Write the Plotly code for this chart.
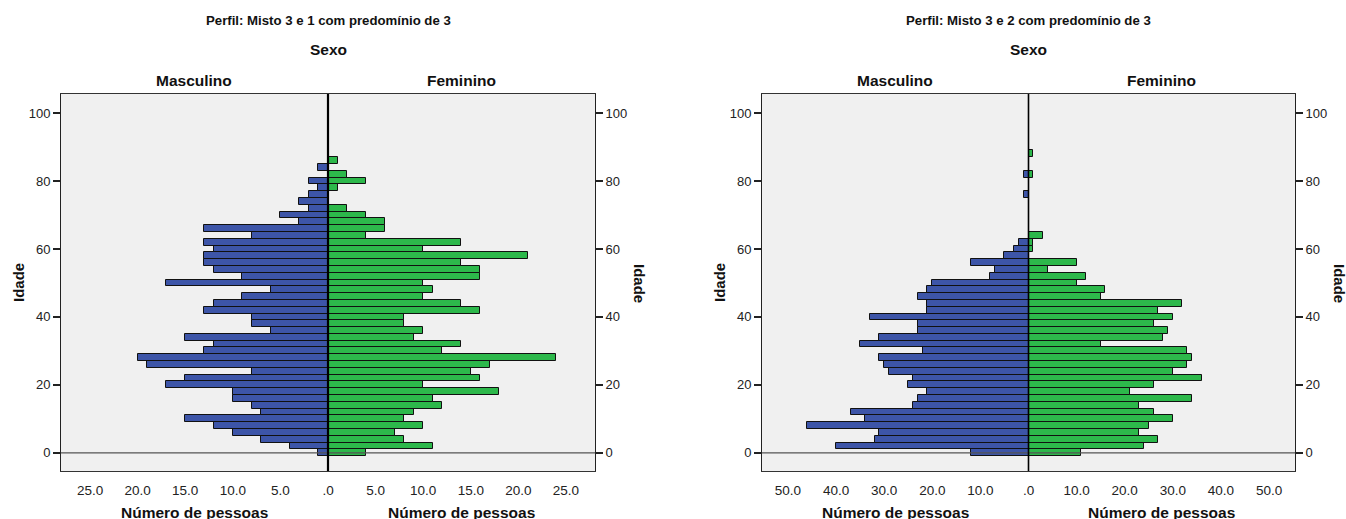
import plotly.graph_objects as go

# Age classes (centre of each 2-year bin)
ages_a = list(range(0, 88, 2))   # 0 .. 86
ages_b = list(range(0, 90, 2))   # 0 .. 88

# Perfil: Misto 3 e 1 com predomínio de 3
masc_a = [1, 4, 7, 10, 12, 15, 7, 8, 10, 10, 17, 15, 8, 19, 20, 13, 12, 15, 6, 8, 8, 13,
          12, 9, 6, 17, 9, 12, 13, 13, 12, 13, 8, 13, 3, 5, 2, 3, 2, 1, 2, 0, 1, 0]
fem_a = [4, 11, 8, 7, 10, 8, 9, 12, 11, 18, 10, 16, 15, 17, 24, 12, 14, 9, 10, 8, 8, 16,
         14, 10, 11, 10, 16, 16, 14, 21, 10, 14, 4, 6, 6, 4, 2, 0, 0, 1, 4, 2, 0, 1]

# Perfil: Misto 3 e 2 com predomínio de 3
masc_b = [12, 40, 32, 31, 46, 34, 37, 24, 23, 21, 25, 24, 29, 30, 31, 22, 35, 31, 23, 23,
          33, 21, 21, 23, 21, 20, 8, 7, 12, 5, 3, 2, 0, 0, 0, 0, 0, 0, 1, 0, 0, 1, 0, 0, 0]
fem_b = [11, 24, 27, 23, 25, 30, 26, 23, 34, 21, 26, 36, 30, 33, 34, 33, 15, 28, 29, 26,
         30, 27, 32, 15, 16, 10, 12, 4, 10, 0, 1, 1, 3, 0, 0, 0, 0, 0, 0, 0, 0, 1, 0, 0, 1]

titles = ["Perfil: Misto 3 e 1 com predomínio de 3", "Perfil: Misto 3 e 2 com predomínio de 3"]
x_ticks_a = [5, 10, 15, 20, 25]
x_ticks_b = [10, 20, 30, 40, 50]
y_ticks = [0, 20, 40, 60, 80, 100]

BLUE = "#3D55A8"
GREEN = "#2DB84B"
FONT = "Liberation Sans, Arial, sans-serif"
W, H = 1346, 519

panels = [
    dict(ages=ages_a, masc=masc_a, fem=fem_a, ticks=x_ticks_a, rng=28.05,
         px=(61, 595), xa="x", ya="y", center_w=2.2),
    dict(ages=ages_b, masc=masc_b, fem=fem_b, ticks=x_ticks_b, rng=55.4,
         px=(762, 1295), xa="x2", ya="y2", center_w=1.6),
]

y_top, y_bot = 94, 471
y_dom = [1 - y_bot / H, 1 - y_top / H]
y_rng = [-5.35, 105.6]

fig = go.Figure()
layout = dict(
    width=W, height=H, margin=dict(l=0, r=0, t=0, b=0),
    paper_bgcolor="white", plot_bgcolor="#F0F0F0",
    showlegend=False, barmode="overlay", bargap=0,
    font=dict(family=FONT, size=13, color="#1a1a1a"),
    shapes=[], annotations=[],
)


def label(text, px_x, px_y, size, angle=0):
    return dict(text=f"<b>{text}</b>", x=px_x / W, y=1 - px_y / H, xref="paper",
                yref="paper", xanchor="center", yanchor="middle", textangle=angle,
                showarrow=False, font=dict(size=size, color="#111"))


for i, p in enumerate(panels):
    n = "" if i == 0 else "2"
    right_y = "y" + str(i + 3)
    fig.add_trace(go.Bar(
        y=p["ages"], x=[-v for v in p["masc"]], orientation="h", width=2,
        marker=dict(color=BLUE, line=dict(color="#111", width=1)),
        xaxis=p["xa"], yaxis=p["ya"], hoverinfo="skip"))
    fig.add_trace(go.Bar(
        y=p["ages"], x=p["fem"], orientation="h", width=2,
        marker=dict(color=GREEN, line=dict(color="#111", width=1)),
        xaxis=p["xa"], yaxis=p["ya"], hoverinfo="skip"))
    # invisible carrier so the mirrored age axis on the right is rendered
    fig.add_trace(go.Scatter(
        y=y_ticks, x=[0] * len(y_ticks), mode="markers", marker=dict(opacity=0),
        xaxis=p["xa"], yaxis=right_y, hoverinfo="skip"))

    tv = [-t for t in reversed(p["ticks"])] + [0] + p["ticks"]
    tt = [f"{t:.1f}" for t in reversed(p["ticks"])] + [".0"] + [f"{t:.1f}" for t in p["ticks"]]
    x0, x1 = p["px"]
    dom = [x0 / W, x1 / W]
    layout["xaxis" + n] = dict(
        domain=dom, range=[-p["rng"], p["rng"]], anchor=p["ya"],
        tickvals=tv, ticktext=tt, ticks="outside", ticklen=7,
        tickcolor="rgba(0,0,0,0)", showgrid=False, zeroline=False,
        showline=True, linecolor="#333", linewidth=1, mirror=True,
        tickfont=dict(size=13.5, color="#222"), fixedrange=True)
    layout["yaxis" + n] = dict(
        domain=y_dom, range=y_rng, anchor=p["xa"], tickvals=y_ticks,
        ticks="outside", ticklen=7, tickwidth=1.5, tickcolor="#222",
        showgrid=False, zeroline=False, showline=True, linecolor="#222",
        linewidth=1, mirror=True, tickfont=dict(size=13, color="#222"),
        fixedrange=True)
    layout["yaxis" + str(i + 3)] = dict(
        overlaying=p["ya"], side="right", anchor=p["xa"], range=y_rng,
        tickvals=y_ticks, ticks="outside", ticklen=7, tickwidth=1.5,
        tickcolor="#222", showgrid=False, zeroline=False, showline=False,
        tickfont=dict(size=13, color="#222"), fixedrange=True)

    xr = p["xa"] + " domain"
    # zero-age reference line and the centre divider
    layout["shapes"].append(dict(type="line", xref=xr, yref=p["ya"], x0=0, x1=1,
                                 y0=0, y1=0, line=dict(color="#555", width=1.2),
                                 layer="above"))
    layout["shapes"].append(dict(type="line", xref=p["xa"], yref=p["ya"] + " domain",
                                 x0=0, x1=0, y0=0, y1=1,
                                 line=dict(color="#000", width=p["center_w"]),
                                 layer="above"))

    mid = (x0 + x1) / 2
    ann = layout["annotations"]
    ann.append(label(titles[i], mid, 20, 13.2))
    ann.append(label("Sexo", mid, 50, 15.5))
    for xx, lab in [((x0 + mid) / 2, "Masculino"), ((x1 + mid) / 2, "Feminino")]:
        ann.append(label(lab, xx, 81, 15.5))
        ann.append(label("Número de pessoas", xx, 512, 15.5))
    ann.append(label("Idade", x0 - 43, 283, 15, -90))
    ann.append(label("Idade", x1 + 45, 283, 15, 90))

fig.update_layout(**layout)
fig.write_html("out.html")
